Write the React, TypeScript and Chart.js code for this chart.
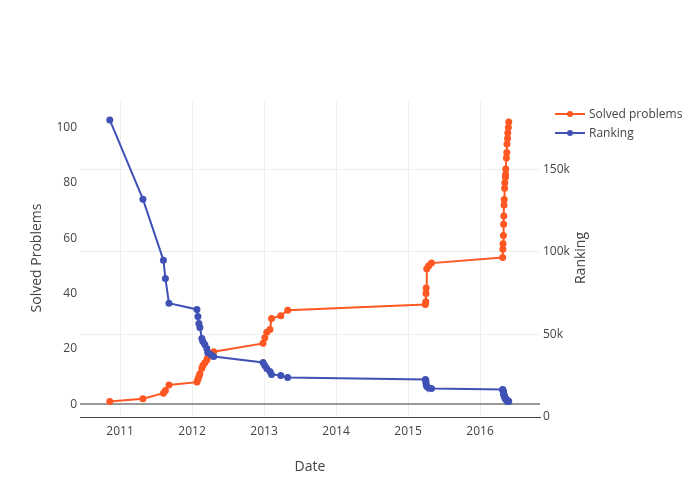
import React, { useEffect, useRef } from "react";
import { Chart, registerables } from "chart.js";

Chart.register(...registerables);

const dates: string[] = [
  "2010-11-10", "2011-04-27", "2011-08-09", "2011-08-19", "2011-09-06",
  "2012-01-26", "2012-01-31", "2012-02-05", "2012-02-10", "2012-02-20", "2012-02-25",
  "2012-03-06", "2012-03-16", "2012-03-21", "2012-04-05", "2012-04-20",
  "2012-12-27", "2013-01-05", "2013-01-15", "2013-01-31", "2013-02-08", "2013-03-27", "2013-05-01",
  "2015-03-30", "2015-04-01", "2015-04-02", "2015-04-03", "2015-04-06", "2015-04-16", "2015-04-30",
  "2016-04-25", "2016-04-26", "2016-04-27", "2016-04-29", "2016-04-30", "2016-05-01", "2016-05-02",
  "2016-05-03", "2016-05-05", "2016-05-06", "2016-05-09", "2016-05-10", "2016-05-11", "2016-05-14",
  "2016-05-16", "2016-05-17", "2016-05-20", "2016-05-21", "2016-05-24", "2016-05-26",
];

const solvedProblems: number[] = [
  1, 2, 4, 5, 7,
  8, 9, 10, 11, 13, 14, 15, 16, 17, 18, 19,
  22, 24, 26, 27, 31, 32, 34,
  36, 37, 40, 42, 49, 50, 51,
  53, 56, 58, 61, 65, 68, 72, 74, 78, 80, 82, 83, 85, 89, 91, 94, 96, 98, 100, 102,
];

const ranking: number[] = [
  180000, 132000, 95000, 84000, 69000,
  65200, 60900, 56700, 54200, 47600, 45800, 43900, 41500, 39100, 37900, 36700,
  33000, 31200, 29400, 27600, 25800, 25200, 23900,
  22700, 22200, 21000, 19700, 18500, 17600, 17300,
  16700, 16400, 16000, 15200, 14200, 13600, 13200, 12800, 12200, 11800, 11200, 11000, 10800,
  10500, 10200, 10000, 9800, 9600, 9500, 9400,
];

const yearTicks: number[] = [2011, 2012, 2013, 2014, 2015, 2016];
const solvedTicks: number[] = [0, 20, 40, 60, 80, 100];
const rankingTicks: number[] = [0, 50000, 100000, 150000];
const seriesNames: string[] = ["Solved problems", "Ranking"];
const seriesColors: string[] = ["#ff5722", "#3f51b5"];

function toYear(s: string): number {
  const d = new Date(s + "T00:00:00Z");
  const y = d.getUTCFullYear();
  const start = Date.UTC(y, 0, 1);
  const end = Date.UTC(y + 1, 0, 1);
  return y + (d.getTime() - start) / (end - start);
}

const FONT = "'Open Sans', sans-serif";
const TEXT = "#444";

const overlayPlugin = {
  id: "overlay",
  afterDraw(chart: any) {
    const ctx = chart.ctx;
    ctx.save();
    ctx.fillStyle = TEXT;
    ctx.font = `14px ${FONT}`;
    ctx.textAlign = "center";
    ctx.textBaseline = "middle";
    ctx.fillText("Date", 310, 467);
    const midY = 258;
    ctx.save();
    ctx.translate(37, midY);
    ctx.rotate(-Math.PI / 2);
    ctx.fillText("Solved Problems", 0, 0);
    ctx.restore();
    ctx.save();
    ctx.translate(581, midY);
    ctx.rotate(-Math.PI / 2);
    ctx.fillText("Ranking", 0, 0);
    ctx.restore();
    // legend
    ctx.font = `12px ${FONT}`;
    ctx.textAlign = "left";
    seriesNames.forEach((name, i) => {
      const y = 114 + i * 19;
      ctx.strokeStyle = seriesColors[i];
      ctx.lineWidth = 2;
      ctx.beginPath();
      ctx.moveTo(555, y);
      ctx.lineTo(585, y);
      ctx.stroke();
      ctx.fillStyle = seriesColors[i];
      ctx.beginPath();
      ctx.arc(570, y, 3, 0, Math.PI * 2);
      ctx.fill();
      ctx.fillStyle = TEXT;
      ctx.fillText(name, 589, y + 1);
    });
    ctx.restore();
  },
};

export default function App() {
  const ref = useRef<HTMLCanvasElement | null>(null);
  useEffect(() => {
    if (!ref.current) return;
    Chart.defaults.font.family = FONT;
    const xs = dates.map(toYear);
    const chart = new Chart(ref.current, {
      type: "line",
      data: {
        datasets: [
          {
            label: seriesNames[0],
            data: xs.map((x, i) => ({ x, y: solvedProblems[i] })),
            borderColor: seriesColors[0],
            backgroundColor: seriesColors[0],
            borderWidth: 2,
            pointRadius: 3.5,
            pointBorderWidth: 0,
            yAxisID: "y",
            order: 1,
            tension: 0,
          },
          {
            label: seriesNames[1],
            data: xs.map((x, i) => ({ x, y: ranking[i] })),
            borderColor: seriesColors[1],
            backgroundColor: seriesColors[1],
            borderWidth: 2,
            pointRadius: 3.5,
            pointBorderWidth: 0,
            yAxisID: "y2",
            order: 0,
            tension: 0,
          },
        ],
      },
      options: {
        animation: false,
        responsive: false,
        maintainAspectRatio: false,
        layout: { padding: { top: 102, left: 0, right: 0, bottom: 0 } },
        plugins: { legend: { display: false }, tooltip: { enabled: false } },
        scales: {
          x: {
            type: "linear",
            min: 2010.444,
            max: 2016.833,
            afterFit: (s: any) => { s.height = 83; },
            afterBuildTicks: (s: any) => { s.ticks = yearTicks.map((v) => ({ value: v })); },
            ticks: {
              callback: (v: any) => String(v),
              color: TEXT,
              font: { size: 12 },
              padding: 7,
              maxRotation: 0,
            },
            grid: { color: "#eee", lineWidth: 1, drawTicks: false },
            border: { display: true, color: "#444", width: 1 },
          },
          y: {
            type: "linear",
            position: "left",
            min: -4.6,
            max: 109.2,
            afterFit: (s: any) => { s.width = 80; },
            afterBuildTicks: (s: any) => { s.ticks = solvedTicks.map((v) => ({ value: v })); },
            ticks: {
              color: TEXT,
              font: { size: 12 },
              padding: 3,
            },
            grid: {
              drawTicks: false,
              color: (c: any) => (c.tick && c.tick.value === 0 ? "#999" : "rgba(0,0,0,0)"),
              lineWidth: (c: any) => (c.tick && c.tick.value === 0 ? 2 : 0),
            },
            border: { display: false },
          },
          y2: {
            type: "linear",
            position: "right",
            min: 0,
            max: 190900,
            afterFit: (s: any) => { s.width = 160; },
            afterBuildTicks: (s: any) => { s.ticks = rankingTicks.map((v) => ({ value: v })); },
            ticks: {
              color: TEXT,
              font: { size: 12 },
              padding: 3,
              callback: (v: any) => (v === 0 ? "0" : `${v / 1000}k`),
            },
            grid: {
              drawTicks: false,
              color: (c: any) => (c.tick && c.tick.value === 0 ? "rgba(0,0,0,0)" : "#eee"),
            },
            border: { display: false },
          },
        },
      },
      plugins: [overlayPlugin],
    });
    return () => chart.destroy();
  }, []);
  return (
    <div style={{ position: "fixed", left: 0, top: 0, width: 700, height: 500, background: "#fff" }}>
      <canvas ref={ref} width={700} height={500} style={{ width: 700, height: 500 }} />
    </div>
  );
}
